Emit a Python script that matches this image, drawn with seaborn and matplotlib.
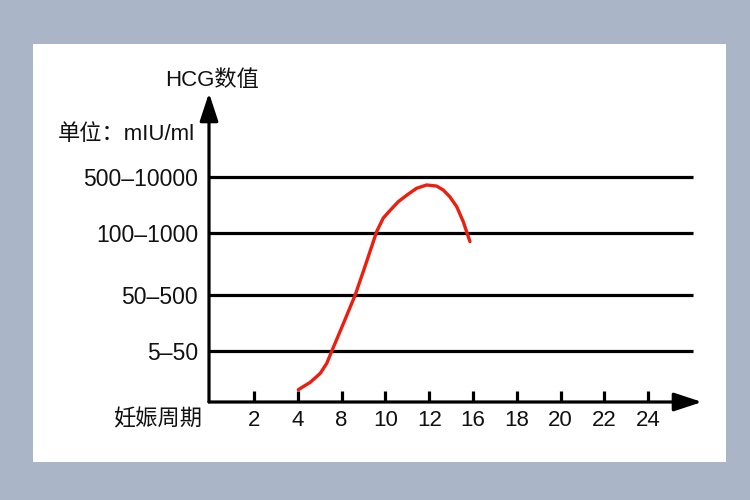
import numpy as np
import pandas as pd
import seaborn as sns
import matplotlib.pyplot as plt
from matplotlib.patches import Rectangle

# x axis: gestational weeks (evenly spaced categories)
week_labels = ["2", "4", "8", "10", "12", "16", "18", "20", "22", "24"]
week_pos = [1, 2, 3, 4, 5, 6, 7, 8, 9, 10]

# y axis: HCG ranges (mIU/ml)
level_labels = ["5–50", "50–500", "100–1000", "500–10000"]
level_pos = [1, 2, 3.1, 4.1]

# red curve (x in week positions, y in level units)
curve_x = [2.01, 2.28, 2.51, 2.66, 2.77, 3.04, 3.31, 3.53, 3.80, 3.95, 4.11,
           4.29, 4.49, 4.71, 4.94, 5.17, 5.32, 5.47, 5.63, 5.78, 5.93]
curve_y = [0.31, 0.44, 0.60, 0.78, 0.99, 1.49, 2.00, 2.50, 3.13, 3.37, 3.51,
           3.66, 3.78, 3.90, 3.96, 3.94, 3.87, 3.75, 3.57, 3.30, 2.95]

sns.set_theme(style="white")
plt.rcParams["font.family"] = ["Liberation Sans", "Noto Sans CJK SC", "DejaVu Sans"]
plt.rcParams["text.color"] = "#111111"
plt.rcParams["xtick.color"] = "black"
plt.rcParams["ytick.color"] = "black"
plt.rcParams["xtick.labelcolor"] = "#111111"
plt.rcParams["ytick.labelcolor"] = "#111111"

W, H = 750, 500
fig = plt.figure(figsize=(7.5, 5), dpi=100, facecolor="#aab5c7")
fig.patches.append(Rectangle((33 / W, 1 - 462 / H), (726 - 33) / W, (462 - 44) / H,
                             transform=fig.transFigure, facecolor="white",
                             edgecolor="none", zorder=-5))

ax = fig.add_axes([209 / W, 1 - 402 / H, (702 - 209) / W, (402 - 93) / H])
ax.set_zorder(2)
ax.patch.set_visible(False)
for s in ax.spines.values():
    s.set_visible(False)

x0, x1 = -0.03, 11.23
y0, y1 = 0.09, 5.6
ax.set_xlim(x0, x1)
ax.set_ylim(y0, y1)

ax.hlines(level_pos, x0, 11.02, color="black", lw=2.3, zorder=2)

df = pd.DataFrame({"week": curve_x, "hcg": curve_y})
sns.lineplot(data=df, x="week", y="hcg", sort=False, color="#ee1d0e", lw=2.4,
             ax=ax, zorder=3)

arrow = dict(arrowstyle="-|>,head_length=0.85,head_width=0.28", lw=2.3,
             color="black", mutation_scale=20, shrinkA=0, shrinkB=0)
ax.annotate("", xy=(0, 1), xytext=(0, 0), xycoords="axes fraction",
            arrowprops=arrow, annotation_clip=False)
ax.annotate("", xy=(1, 0), xytext=(0, 0), xycoords="axes fraction",
            arrowprops=arrow, annotation_clip=False)

ax.set_xticks(week_pos)
ax.set_xticklabels(week_labels, fontsize=16)
ax.set_yticks(level_pos)
ax.set_yticklabels(level_labels, fontsize=16.5)
ax.tick_params(axis="x", direction="in", length=8, width=2.3, color="black",
               pad=6, bottom=True)
ax.tick_params(axis="y", length=0, pad=8)
ax.set_xlabel("")
ax.set_ylabel("")

fig.text(165 / W, 1 - 81 / H, "HCG数值", fontsize=16, va="center", ha="left")
fig.text(58 / W, 1 - 135 / H, "单位：mIU/ml", fontsize=16, va="center", ha="left")
fig.text(113 / W, 1 - 420 / H, "妊娠周期", fontsize=16, va="center", ha="left")

fig.savefig("out.png", dpi=100, facecolor=fig.get_facecolor())
